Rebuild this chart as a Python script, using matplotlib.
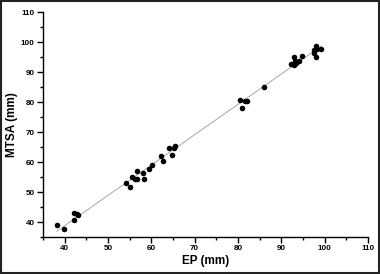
import numpy as np
import matplotlib
matplotlib.use("Agg")
import matplotlib.pyplot as plt
from matplotlib.patches import Rectangle
from matplotlib.ticker import MultipleLocator

ep = [38.2, 39.8, 42.1, 42.2, 42.8, 43.2,
      54.1, 55.1, 55.5, 56.7, 56.6, 56.3, 58.2, 58.4, 59.5, 60.1,
      62.2, 62.7, 64.1, 64.9, 65.3, 65.5,
      80.4, 80.9, 81.6, 82.1, 86.0,
      92.9, 94.7, 92.3, 92.9, 93.5, 94.0, 93.2,
      98.1, 99.3, 97.5, 97.6, 98.1, 98.3]
mtsa = [39.0, 37.6, 40.8, 43.1, 42.7, 42.4,
        53.1, 51.6, 55.1, 57.1, 54.3, 54.3, 56.4, 54.4, 57.8, 59.1,
        62.0, 60.2, 64.7, 62.4, 64.7, 65.2,
        80.8, 78.0, 80.2, 80.2, 85.1,
        95.1, 95.3, 92.7, 92.3, 93.1, 93.8, 93.8,
        98.7, 97.7, 97.3, 96.2, 95.1, 97.8]

# linear fit
slope, icpt = np.polyfit(ep, mtsa, 1)
x_fit = np.array([min(ep), max(ep)])
y_fit = slope * x_fit + icpt

plt.rcParams['font.family'] = ['Liberation Sans', 'DejaVu Sans']

fig = plt.figure(figsize=(3.8, 2.74), dpi=100)
ax = fig.add_axes([0.113, 0.135, 0.855, 0.821])

ax.plot(x_fit, y_fit, color='#999999', lw=0.6, zorder=1)
ax.scatter(ep, mtsa, s=16, color='black', zorder=2, linewidths=0)

ax.set_xlim(35, 110)
ax.set_ylim(35, 110)
ax.xaxis.set_minor_locator(MultipleLocator(5))
ax.yaxis.set_minor_locator(MultipleLocator(5))
ax.set_xticks(range(40, 111, 10))
ax.set_yticks(range(40, 111, 10))

for side in ['top', 'right']:
    ax.spines[side].set_visible(False)
for side in ['left', 'bottom']:
    ax.spines[side].set_linewidth(1.0)

ax.tick_params(which='major', direction='out', length=4, width=1, labelsize=5.8, pad=2)
ax.tick_params(which='minor', direction='out', length=2.5, width=1)
for lbl in ax.get_xticklabels() + ax.get_yticklabels():
    lbl.set_fontweight('bold')

ax.set_xlabel('EP (mm)', fontsize=8.5, fontweight='bold', labelpad=2)
ax.set_ylabel('MTSA (mm)', fontsize=8.5, fontweight='bold', labelpad=2)

# outer frame of the image
fig.patches.append(Rectangle((0.002, 0.003), 0.996, 0.994, transform=fig.transFigure,
                             fill=False, edgecolor='#222222', lw=1.5))

fig.savefig('out.png', dpi=100)
